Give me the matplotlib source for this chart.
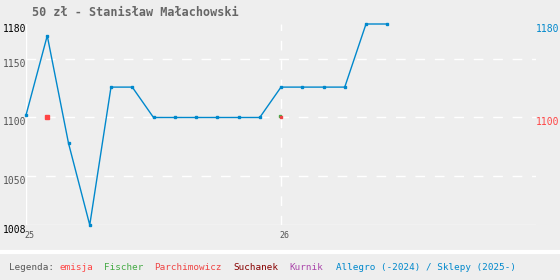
import matplotlib
matplotlib.use("Agg")
import matplotlib.pyplot as plt
import matplotlib.transforms as mtrans

# price data (months since 2025-01)
months = ["2025-01", "2025-02", "2025-03", "2025-04", "2025-05", "2025-06",
          "2025-07", "2025-08", "2025-09", "2025-10", "2025-11", "2025-12",
          "2026-01", "2026-02", "2026-03", "2026-04", "2026-05", "2026-06"]
prices = [1102, 1170, 1078, 1008, 1126, 1126,
          1100, 1100, 1100, 1100, 1100, 1100,
          1126, 1126, 1126, 1126, 1180, 1180]

emisja_month = ["2025-02"]
emisja_price = [1100]
fischer_month = ["2025-12-30"]
fischer_price = [1101]
parchimowicz_month = ["2026-01"]
parchimowicz_price = [1100]

grid_values = [1050, 1100, 1150]
left_labels = [1180, 1150, 1100, 1050, 1008]
year_labels = ["25", "26"]


def to_x(m):
    parts = m.split("-")
    x = (int(parts[0]) - 2025) * 12 + int(parts[1]) - 1
    if len(parts) > 2:
        x += (int(parts[2]) - 1) / 31
    return x


BG = "#eeeeee"
BLUE = "#0088cc"
RED = "#ff4444"
GREEN = "#44aa44"

fig = plt.figure(figsize=(5.6, 2.8), dpi=100)
fig.patch.set_facecolor(BG)
ax = fig.add_axes([26 / 560, 55 / 280, 510 / 560, 201 / 280])
ax.set_facecolor(BG)
ax.set_xlim(0, 24)
ax.set_ylim(1008, 1180)
for s in ax.spines.values():
    s.set_visible(False)
ax.set_xticks([])
ax.set_yticks([])

# grid
for g in grid_values:
    ax.axhline(g, color="white", lw=1, ls=(0, (7, 7)), zorder=1)
ax.axvline(12, color="white", lw=1, ls=(0, (7, 7)), zorder=1)
ax.axhline(1008, color="white", lw=1, zorder=1)
ax.axvline(0, color="white", lw=1, zorder=1)

xs = [to_x(m) for m in months]
ax.plot(xs, prices, color=BLUE, lw=1, marker="s", ms=2, zorder=3, clip_on=False)
ax.plot([to_x(m) for m in emisja_month], emisja_price, "s", color=RED, ms=3.5, zorder=4)
ax.plot([to_x(m) for m in fischer_month], fischer_price, "s", color=GREEN, ms=2, zorder=4)
ax.plot([to_x(m) for m in parchimowicz_month], parchimowicz_price, "s", color="#ee4444",
        ms=2, zorder=5)

font = "DejaVu Sans Mono"
down = mtrans.offset_copy(ax.get_yaxis_transform(), fig=fig, x=0, y=-5, units="dots")
for v in left_labels:
    c = "black" if v in (1180, 1008) else "#555555"
    ax.text(0, v, str(v), transform=down, ha="right", va="center",
            fontsize=7, family=font, color=c)
ax.text(1.045, 1180, "1180", transform=down, ha="right", va="center",
        fontsize=7, family=font, color=BLUE)
ax.text(1.045, 1100, "1100", transform=down, ha="right", va="center",
        fontsize=7, family=font, color=RED)

xtr = mtrans.offset_copy(ax.get_xaxis_transform(), fig=fig, x=3, y=-6, units="dots")
for i, lab in enumerate(year_labels):
    ax.text(i * 12, 0, lab, transform=xtr, ha="center", va="top",
            fontsize=6, family=font, color="#555555")

fig.text(135 / 560, 1 - 12 / 280, "50 zł - Stanisław Małachowski", ha="center",
         va="center", fontsize=8.5, family=font, weight="bold", color="#666666")

# legend band
fig.add_artist(plt.Line2D([0, 1], [1 - 251.5 / 280] * 2, color="white", lw=3,
                          transform=fig.transFigure))
legend = [("Legenda:", "#555555", 9), ("emisja", RED, 60), ("Fischer", GREEN, 104),
          ("Parchimowicz", "#ee4444", 154), ("Suchanek", "#880000", 233),
          ("Kurnik", "#aa44aa", 289), ("Allegro (-2024) / Sklepy (2025-)", BLUE, 336)]
for txt, col, px in legend:
    fig.text(px / 560, 1 - 267 / 280, txt, ha="left", va="center",
             fontsize=6.7, family=font, color=col)

fig.savefig("out.png", dpi=100, facecolor=BG)
